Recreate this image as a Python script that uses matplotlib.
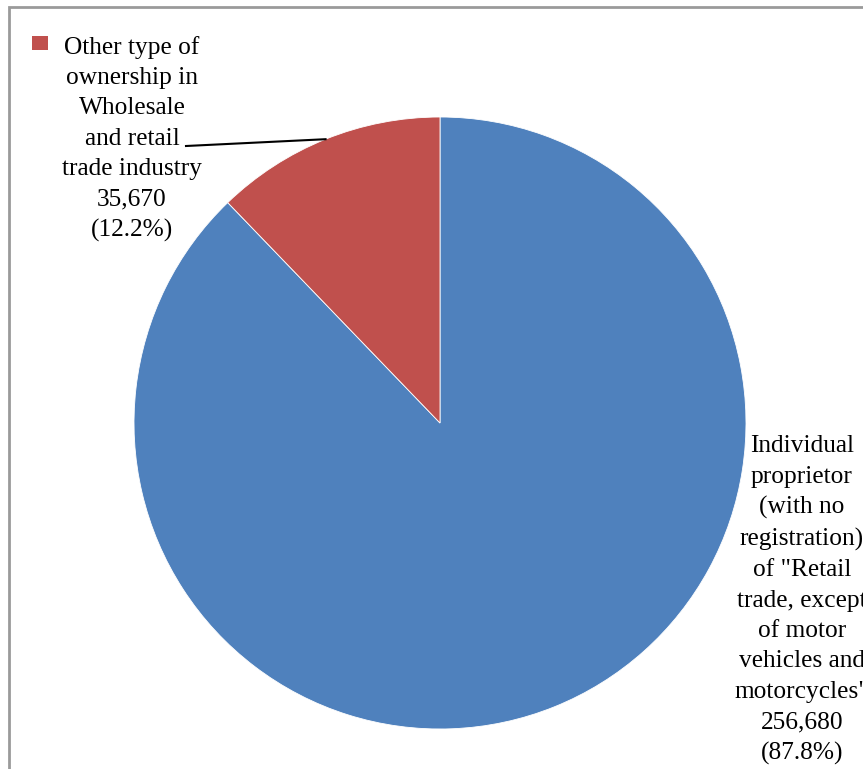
import numpy as np
import matplotlib
matplotlib.use("Agg")
import matplotlib.pyplot as plt
from matplotlib.patches import Rectangle

categories = ['Individual proprietor (with no registration) of "Retail trade, except of motor vehicles and motorcycles"',
              'Other type of ownership in Wholesale and retail trade industry']
values = [256680, 35670]
percents = ['87.8%', '12.2%']
label_lines = [
    ['Individual', 'proprietor', '(with no', 'registration)', 'of "Retail', 'trade, except',
     'of motor', 'vehicles and', 'motorcycles"'],
    ['Other type of', 'ownership in', 'Wholesale', 'and retail', 'trade industry'],
]
colors = ['#4F81BD', '#C0504D']

W, H = 863, 769
fig = plt.figure(figsize=(W / 100, H / 100), dpi=100)
plt.rcParams['font.family'] = ['Liberation Serif', 'DejaVu Serif']

cx, cy, r = 440, 423, 306
ax = fig.add_axes([(cx - r) / W, (H - cy - r) / H, 2 * r / W, 2 * r / H])
wedges, _ = ax.pie(values, colors=colors, startangle=90, counterclock=False,
                   wedgeprops=dict(edgecolor='white', linewidth=0.6))
ax.set_xlim(-1, 1)
ax.set_ylim(-1, 1)
ax.set_aspect('auto')
ax.axis('off')

# chart border (cropped at right/bottom)
fig.add_artist(Rectangle((9 / W, -0.1), 1.2, (H - 7) / H + 0.1, transform=fig.transFigure,
                         fill=False, edgecolor='#9a9a9a', linewidth=2))

fs = 18.3
ls = 1.49
def fmt(v, p, lines):
    return '\n'.join(lines + [f'{v:,}', f'({p})'])

# right label (blue)
fig.text(802 / W, 1 - 600 / H, fmt(values[0], percents[0], label_lines[0]),
         ha='center', va='center', multialignment='center', fontsize=fs, linespacing=ls)
# left label (red)
fig.text(132 / W, 1 - 139 / H, fmt(values[1], percents[1], label_lines[1]),
         ha='center', va='center', multialignment='center', fontsize=fs, linespacing=ls)

# leader line to middle of red wedge
w = wedges[1]
mid = np.deg2rad((w.theta1 + w.theta2) / 2)
ex, ey = np.cos(mid), np.sin(mid)
sx = (186 - cx) / r
sy = (cy - 146) / r
ax.plot([sx, ex], [sy, ey], color='black', linewidth=1.5, clip_on=False)

# legend marker
fig.add_artist(Rectangle((32 / W, 1 - 50 / H), 16 / W, 14 / H, transform=fig.transFigure,
                         facecolor=colors[1], edgecolor='none'))

fig.savefig('out.png', dpi=100)
